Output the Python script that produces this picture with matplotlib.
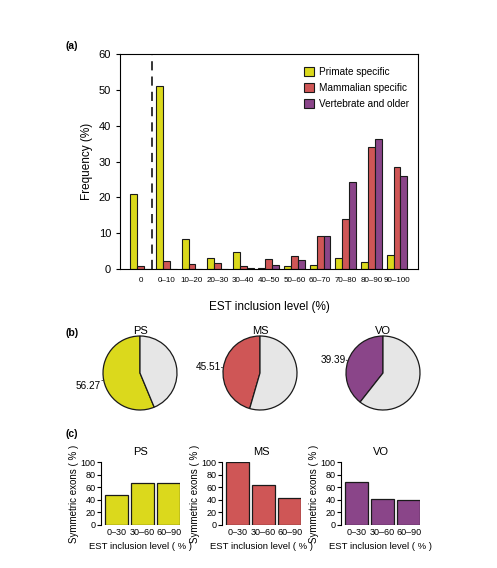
import numpy as np
import matplotlib.pyplot as plt
from matplotlib.patches import Patch

plt.rcParams['font.family'] = ['Liberation Sans', 'DejaVu Sans']

# panel (a) data
bins = ['0', '0\u201310', '10\u201320', '20\u201330', '30\u201340', '40\u201350',
        '50\u201360', '60\u201370', '70\u201380', '80\u201390', '90\u2013100']
primate = [21, 51, 8.3, 3.1, 4.7, 0.3, 0.7, 1.2, 3.1, 2.0, 4.0]
mammal = [0.9, 2.3, 1.3, 1.8, 0.9, 2.7, 3.7, 9.3, 14, 34, 28.5]
vertebrate = [0, 0.1, 0.1, 0.1, 0.3, 1.0, 2.4, 9.2, 24.3, 36.2, 26]

# panel (b) data
pie_names = ['PS', 'MS', 'VO']
pie_values = [56.27, 45.51, 39.39]

# panel (c) data
sym_bins = ['0\u201330', '30\u201360', '60\u201390']
sym_ps = [47, 67, 67]
sym_ms = [100, 64, 43]
sym_vo = [69, 42, 39]

c_yel = '#dbd91c'
c_red = '#cf5656'
c_pur = '#8a4589'
c_grey = '#e6e6e6'
edge = '#1a1a1a'

W, H = 497, 568
fig = plt.figure(figsize=(W / 100, H / 100), dpi=100)


def px_axes(left, top, right, bottom):
    return fig.add_axes([left / W, 1 - bottom / H, (right - left) / W, (bottom - top) / H])


# ---- (a)
ax = px_axes(120, 54, 418, 269)
x = np.arange(len(bins))
bw = 0.27
ax.bar(x - bw, primate, bw, color=c_yel, edgecolor=edge, linewidth=0.8)
ax.bar(x, mammal, bw, color=c_red, edgecolor=edge, linewidth=0.8)
ax.bar(x + bw, vertebrate, bw, color=c_pur, edgecolor=edge, linewidth=0.8)
ax.axvline(0.45, color='black', linestyle=(0, (6, 4)), linewidth=1.1)
ax.set_xlim(-0.81, 10.82)
ax.set_ylim(0, 60)
ax.set_xticks(x)
ax.set_xticklabels(bins, fontsize=5.8)
ax.tick_params(axis='x', length=0, pad=6)
ax.set_yticks(range(0, 61, 10))
ax.tick_params(axis='y', labelsize=8, length=3, width=0.8, direction='out')
for s in ax.spines.values():
    s.set_linewidth(0.8)
ax.set_ylabel('Frequency (%)', fontsize=8.5, labelpad=4)
ax.set_xlabel('EST inclusion level (%)', fontsize=8.5, labelpad=12)
handles = [Patch(facecolor=c, edgecolor=edge, linewidth=0.8) for c in (c_yel, c_red, c_pur)]
ax.legend(handles, ['Primate specific', 'Mammalian specific', 'Vertebrate and older'],
          loc='upper right', frameon=False, fontsize=7.2, handlelength=1.0,
          handleheight=1.0, handletextpad=0.5, labelspacing=0.6,
          bbox_to_anchor=(1.0, 0.98))
fig.text(66 / W, 1 - 46 / H, '(a)', fontsize=7.5, fontweight='bold', va='center')

# ---- (b)
pie_cols = [c_yel, c_red, c_pur]
pie_cx = [140, 260, 383]
cy, r = 373, 37
for name, val, col, cx in zip(pie_names, pie_values, pie_cols, pie_cx):
    pax = px_axes(cx - r, cy - r, cx + r, cy + r)
    pax.pie([val, 100 - val], colors=[col, c_grey], startangle=90, counterclock=True,
            wedgeprops=dict(edgecolor=edge, linewidth=0.9))
    pax.set_xlim(-1, 1)
    pax.set_ylim(-1, 1)
    pax.set_aspect('equal')
    ang = np.deg2rad(90 + val * 3.6 / 2)
    ux, uy = np.cos(ang), np.sin(ang)
    pax.plot([ux, 1.05 * ux], [uy, 1.05 * uy], color='#333333', linewidth=0.6, clip_on=False)
    pax.text(1.07 * ux, 1.07 * uy, f'{val:.2f}', ha='right',
             va='top' if uy < -0.05 else 'center', fontsize=7.2)
    pax.set_title(name, fontsize=8, pad=1)
fig.text(66 / W, 1 - 333 / H, '(b)', fontsize=7.5, fontweight='bold', va='center')

# ---- (c)
sym_vals = [sym_ps, sym_ms, sym_vo]
sym_left = [101, 222, 341]
for name, vals, col, left in zip(pie_names, sym_vals, pie_cols, sym_left):
    cax = px_axes(left, 462, left + 79, 525)
    xx = np.arange(len(sym_bins))
    cax.bar(xx, vals, 0.87, color=col, edgecolor=edge, linewidth=0.9)
    cax.set_xlim(-0.6, 2.44)
    cax.set_ylim(0, 100)
    cax.set_yticks(range(0, 101, 20))
    cax.set_xticks(xx)
    cax.set_xticklabels(sym_bins, fontsize=6.5)
    cax.tick_params(axis='x', length=0, pad=2)
    cax.tick_params(axis='y', labelsize=6.5, length=3, width=0.8, pad=1)
    for s in ('top', 'right', 'bottom'):
        cax.spines[s].set_visible(False)
    cax.spines['left'].set_linewidth(0.8)
    cax.set_title(name, fontsize=8, pad=5)
    cax.set_ylabel('Symmetric exons ( % )', fontsize=7, labelpad=1)
    cax.set_xlabel('EST inclusion level ( % )', fontsize=6.8, labelpad=4)
fig.text(66 / W, 1 - 434 / H, '(c)', fontsize=7.5, fontweight='bold', va='center')

fig.savefig('out.png', dpi=100)
